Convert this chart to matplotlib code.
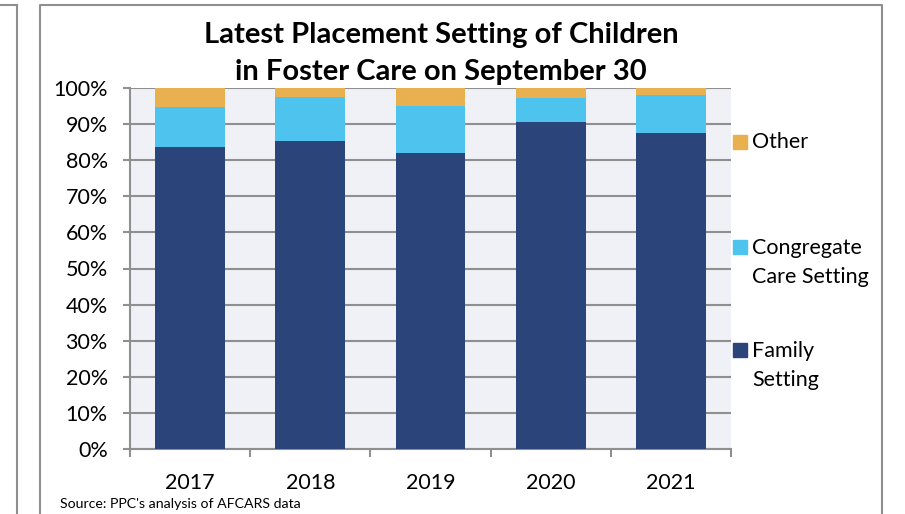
"""
Latest placement setting of children in foster care (stacked 100% bars)
"""
import matplotlib.pyplot as plt
from matplotlib.patches import Rectangle
from matplotlib.lines import Line2D

years = ['2017', '2018', '2019', '2020', '2021']
family = [83.7, 85.2, 82.1, 90.5, 87.6]
congregate = [11.0, 12.2, 12.9, 6.7, 10.4]
other = [5.3, 2.6, 5.0, 2.8, 2.0]

series = [
    ('Family\nSetting', family, '#2b457a'),
    ('Congregate\nCare Setting', congregate, '#4ec3ee'),
    ('Other', other, '#e9b04f'),
]

plt.rcParams['font.family'] = ['Lato', 'DejaVu Sans']
grey = '#8f8f8f'
fs = 15.5

fig = plt.figure(figsize=(9.05, 5.14), dpi=100)
W, H = 905, 514


def fx(px):
    return px / W


def fy(py):
    return 1 - py / H


ax = fig.add_axes([fx(130), fy(449), fx(731) - fx(130), fy(88) - fy(449)])
ax.set_facecolor('#f0f1f7')

x = list(range(len(years)))
bottom = [0] * len(years)
for label, vals, color in series:
    ax.bar(x, vals, bottom=bottom, width=0.58, color=color, zorder=3)
    bottom = [b + v for b, v in zip(bottom, vals)]

ax.set_xlim(-0.5, len(years) - 0.5)
ax.set_ylim(0, 100)
ax.set_yticks(range(0, 101, 10))
ax.set_yticklabels([f'{v}%' for v in range(0, 101, 10)], fontsize=fs)
ax.set_xticks(x)
ax.set_xticklabels(years, fontsize=fs)
ax.set_xticks([i - 0.5 for i in range(len(years) + 1)], minor=True)
ax.tick_params(axis='x', which='major', length=0, pad=17)
ax.tick_params(axis='x', which='minor', length=6, width=1.5, color=grey)
ax.tick_params(axis='y', length=5, width=1.5, color=grey, pad=11)
ax.grid(axis='y', color=grey, lw=1.5, zorder=1)
for side in ['top', 'right']:
    ax.spines[side].set_visible(False)
for side in ['left', 'bottom']:
    ax.spines[side].set_color(grey)
    ax.spines[side].set_linewidth(1.5)

title_lines = [('Latest Placement Setting of Children', 42.7),
               ('in Foster Care on September 30', 80)]
for text, ypx in title_lines:
    fig.text(fx(441), fy(ypx), text, ha='center', va='baseline', fontsize=21,
             fontweight='bold')

# legend drawn by hand to mimic the stacked-label layout
legend_rows = [(['Other'], '#e9b04f', 148.5),
               (['Congregate', 'Care Setting'], '#4ec3ee', 253.5),
               (['Family', 'Setting'], '#2b457a', 357)]
for lines, color, base in legend_rows:
    fig.patches.append(Rectangle((fx(733), fy(base)), fx(14), fy(0) - fy(14),
                                 transform=fig.transFigure, color=color))
    for k, line in enumerate(lines):
        fig.text(fx(752), fy(base + 29.5 * k), line, ha='left', va='baseline',
                 fontsize=fs)

fig.text(fx(60), fy(508), "Source: PPC's analysis of AFCARS data", ha='left',
         va='baseline', fontsize=10.2)

# outer frames
fig.lines.append(Line2D([fx(40), fx(40), fx(882), fx(882)], [0, fy(5), fy(5), 0],
                        transform=fig.transFigure, color=grey, lw=1.5))
fig.lines.append(Line2D([fx(17), fx(17)], [0, fy(5)], transform=fig.transFigure,
                        color=grey, lw=1.5))
fig.lines.append(Line2D([0, fx(17)], [fy(5), fy(5)], transform=fig.transFigure,
                        color=grey, lw=1.5))

fig.savefig('out.png', dpi=100)
